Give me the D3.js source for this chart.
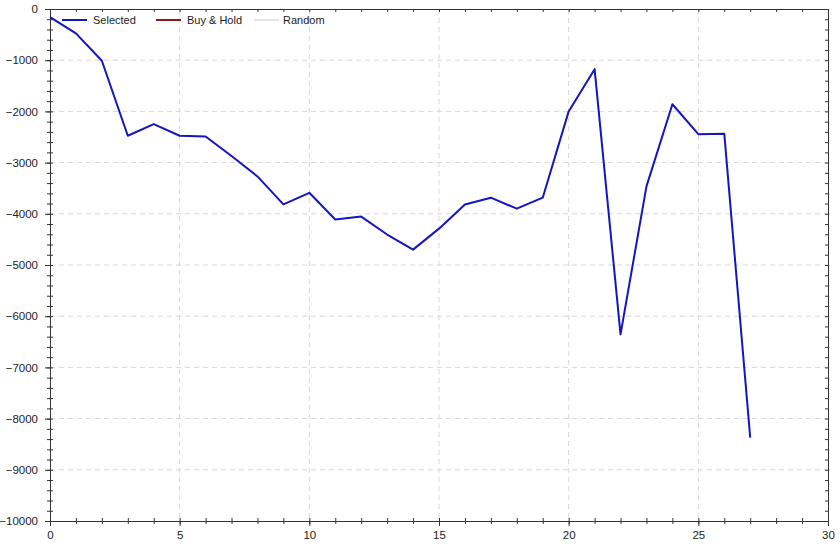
<!DOCTYPE html>
<html>
<head>
<meta charset="utf-8">
<script src="https://cdn.jsdelivr.net/npm/d3@7"></script>
<style>
  body { margin: 0; background: #fff; }
  text { font-family: "Liberation Sans", Arial, sans-serif; }
</style>
</head>
<body>
<script>
"use strict";
// data
const periods = d3.range(0, 28)
const selected = [-160, -475, -1010, -2475, -2250, -2475, -2490, -2870, -3270, -3815,
    -3590, -4110, -4055, -4405, -4700, -4290, -3820, -3685, -3900, -3685,
    -2000, -1175, -6355, -3465, -1860, -2445, -2435, -8370]
const seriesNames = ["Selected", "Buy & Hold", "Random"]
const seriesColors = ["#1515c0", "#8b1a1a", "#e4e4e4"]
const xTicks = [0, 5, 10, 15, 20, 25, 30]
const yTicks = [0, -1000, -2000, -3000, -4000, -5000, -6000, -7000, -8000, -9000, -10000]

const measurements = { width: 840, height: 547, left: 50, right: 828, top: 9, bottom: 521 }

const svg = d3.select("body").append("svg")
    .attr("width", measurements.width)
    .attr("height", measurements.height)

const scaleX = d3.scaleLinear().domain([0, 30]).range([measurements.left, measurements.right])
const scaleY = d3.scaleLinear().domain([-10000, 0]).range([measurements.bottom, measurements.top])

// dashed grid
svg.append("g").selectAll("line").data(xTicks.slice(1, -1)).enter().append("line")
    .attr("x1", d => scaleX(d)).attr("x2", d => scaleX(d))
    .attr("y1", measurements.top).attr("y2", measurements.bottom)
    .attr("stroke", "#d8d8d8").attr("stroke-dasharray", "5,4")
svg.append("g").selectAll("line").data(yTicks.slice(1, -1)).enter().append("line")
    .attr("x1", measurements.left).attr("x2", measurements.right)
    .attr("y1", d => scaleY(d)).attr("y2", d => scaleY(d))
    .attr("stroke", "#d8d8d8").attr("stroke-dasharray", "5,4")

// minor + major ticks
function drawAxis(axis, transform) {
    const g = svg.append("g").attr("transform", transform).call(axis)
    g.select(".domain").attr("stroke", "#333")
    g.selectAll(".tick line").attr("stroke", "#333")
    g.selectAll("text").attr("fill", "#222").style("font-size", "11.5px")
    return g
}

const minorY = d3.range(-10000, 1, 200)
const minorX = d3.range(0, 31)

// left: ticks cross the line
drawAxis(d3.axisLeft(scaleY).tickValues(minorY).tickSize(3).tickFormat(""),
    `translate(${measurements.left},0)`)
drawAxis(d3.axisRight(scaleY).tickValues(minorY).tickSize(3).tickFormat(""),
    `translate(${measurements.left},0)`)
drawAxis(d3.axisLeft(scaleY).tickValues(yTicks).tickSize(5).tickPadding(7).tickFormat(d3.format("d")),
    `translate(${measurements.left},0)`)
// bottom
drawAxis(d3.axisBottom(scaleX).tickValues(minorX).tickSize(3).tickFormat(""),
    `translate(0,${measurements.bottom})`)
drawAxis(d3.axisTop(scaleX).tickValues(minorX).tickSize(3).tickFormat(""),
    `translate(0,${measurements.bottom})`)
drawAxis(d3.axisBottom(scaleX).tickValues(xTicks).tickSize(5).tickPadding(5).tickFormat(d3.format("d")),
    `translate(0,${measurements.bottom})`)
// top and right, inward ticks
drawAxis(d3.axisBottom(scaleX).tickValues(minorX).tickSize(3).tickFormat(""),
    `translate(0,${measurements.top})`)
drawAxis(d3.axisLeft(scaleY).tickValues(minorY).tickSize(3).tickFormat(""),
    `translate(${measurements.right},0)`)

// the line
const line = d3.line().x((d, i) => scaleX(periods[i])).y(d => scaleY(d))
svg.append("path")
    .datum(selected)
    .attr("d", line)
    .attr("fill", "none")
    .attr("stroke", seriesColors[0])
    .attr("stroke-width", 2)
    .attr("stroke-linejoin", "round")

// legend
const legendX = [62, 156, 254]
const legend = svg.selectAll(".legend").data(seriesNames).enter().append("g")
    .attr("class", "legend")
    .attr("transform", (d, i) => `translate(${legendX[i]},20)`)
legend.append("line")
    .attr("x1", 0).attr("x2", 25)
    .attr("stroke", (d, i) => seriesColors[i])
    .attr("stroke-width", 2)
legend.append("text")
    .attr("x", (d, i) => i == 2 ? 29 : 31)
    .attr("dy", "0.35em")
    .style("font-size", "11px")
    .attr("fill", "#222")
    .text(d => d)
</script>
</body>
</html>
